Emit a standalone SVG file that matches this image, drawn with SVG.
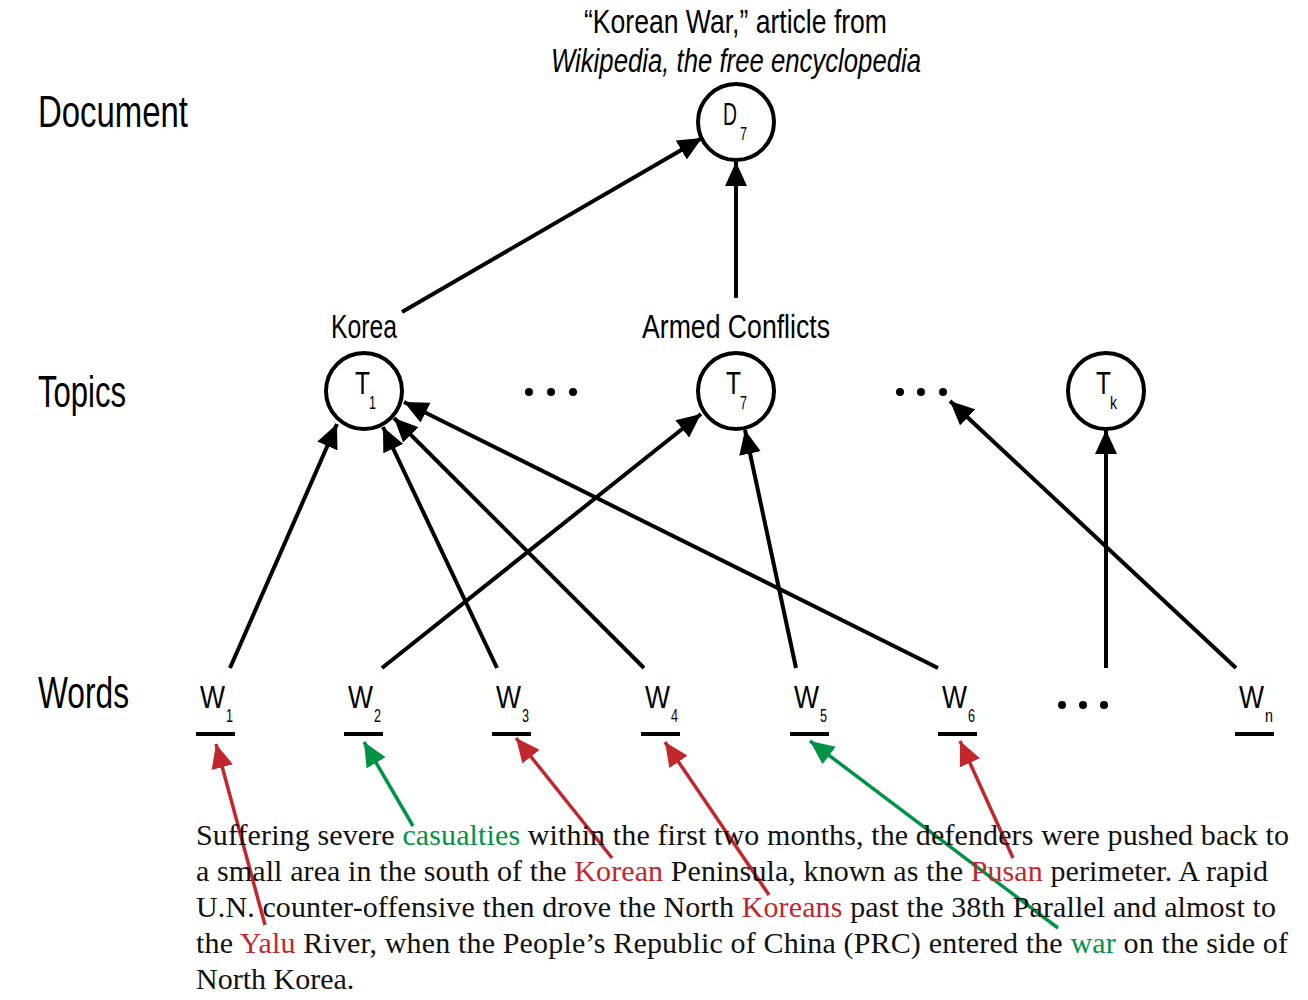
<svg xmlns="http://www.w3.org/2000/svg" width="1308" height="1000" viewBox="0 0 1308 1000">
<defs>
<marker id="ah" markerUnits="userSpaceOnUse" markerWidth="26" markerHeight="22" refX="24" refY="11" orient="auto"><path d="M0,0 L24,11 L0,22 Z" fill="#000"/></marker>
<marker id="ahr" markerUnits="userSpaceOnUse" markerWidth="26" markerHeight="22" refX="24" refY="11" orient="auto"><path d="M0,0 L24,11 L0,22 Z" fill="#c1272d"/></marker>
<marker id="ahg" markerUnits="userSpaceOnUse" markerWidth="26" markerHeight="22" refX="24" refY="11" orient="auto"><path d="M0,0 L24,11 L0,22 Z" fill="#009245"/></marker>
<style>
.lbl{font-family:"Liberation Sans",Arial,sans-serif;fill:#000}
.node{fill:#fff;stroke:#000;stroke-width:4}
.e{stroke:#000;stroke-width:4;fill:none;marker-end:url(#ah)}
.er{stroke:#c1272d;stroke-width:3.5;fill:none;marker-end:url(#ahr)}
.eg{stroke:#009245;stroke-width:3.5;fill:none;marker-end:url(#ahg)}
.bar{stroke:#000;stroke-width:4}
.para{font-family:"Liberation Serif","Times New Roman",serif;font-size:30px;fill:#111}
.r{fill:#c1272d}.g{fill:#009245}
.big{font-size:32px}
.sub{font-size:19px}
</style>
</defs>
<rect width="1308" height="1000" fill="#fff"/>
<g id="titles" class="lbl">
<text x="584" y="33" font-size="33" textLength="303" lengthAdjust="spacingAndGlyphs">“Korean War,” article from</text>
<text x="551" y="72" font-size="33" font-style="italic" textLength="370" lengthAdjust="spacingAndGlyphs">Wikipedia, the free encyclopedia</text>
<text x="38" y="127" font-size="44" textLength="150" lengthAdjust="spacingAndGlyphs">Document</text>
<text x="38" y="407" font-size="44" textLength="88" lengthAdjust="spacingAndGlyphs">Topics</text>
<text x="38" y="708" font-size="44" textLength="91" lengthAdjust="spacingAndGlyphs">Words</text>
<text x="331" y="338" font-size="33" textLength="66" lengthAdjust="spacingAndGlyphs">Korea</text>
<text x="642" y="338" font-size="33" textLength="188" lengthAdjust="spacingAndGlyphs">Armed Conflicts</text>
</g>
<g id="connectors">
<line class="e" x1="402" y1="312" x2="702" y2="138"/>
<line class="e" x1="736" y1="298" x2="736" y2="162"/>
<line class="e" x1="230" y1="668" x2="337" y2="424"/>
<line class="e" x1="382" y1="668" x2="701" y2="414"/>
<line class="e" x1="497" y1="668" x2="383" y2="427"/>
<line class="e" x1="644" y1="668" x2="394" y2="418"/>
<line class="e" x1="796" y1="668" x2="745" y2="430"/>
<line class="e" x1="938" y1="668" x2="404" y2="402"/>
<line class="e" x1="1106" y1="668" x2="1106" y2="430"/>
<line class="e" x1="1236" y1="668" x2="950" y2="401"/>
<line class="er" x1="265" y1="925" x2="216" y2="744"/>
<line class="eg" x1="413" y1="826" x2="364" y2="742"/>
<line class="er" x1="612" y1="858" x2="516" y2="738"/>
<line class="er" x1="769" y1="895" x2="665" y2="742"/>
<line class="eg" x1="1058" y1="928" x2="810" y2="741"/>
<line class="er" x1="1013" y1="858" x2="960" y2="741"/>
</g>
<g id="D7"><circle class="node" cx="736" cy="122" r="38"/><text class="lbl big" x="723" y="125" textLength="14" lengthAdjust="spacingAndGlyphs">D</text><text class="lbl sub" x="740" y="140" textLength="7" lengthAdjust="spacingAndGlyphs">7</text></g>
<g id="T1"><circle class="node" cx="364" cy="391" r="38"/><text class="lbl big" x="355" y="394" textLength="15" lengthAdjust="spacingAndGlyphs">T</text><text class="lbl sub" x="369" y="409" textLength="7" lengthAdjust="spacingAndGlyphs">1</text></g>
<g id="T7"><circle class="node" cx="736" cy="391" r="38"/><text class="lbl big" x="726" y="394" textLength="15" lengthAdjust="spacingAndGlyphs">T</text><text class="lbl sub" x="740" y="409" textLength="7" lengthAdjust="spacingAndGlyphs">7</text></g>
<g id="Tk"><circle class="node" cx="1106" cy="391" r="38"/><text class="lbl big" x="1096" y="394" textLength="15" lengthAdjust="spacingAndGlyphs">T</text><text class="lbl sub" x="1110" y="409" textLength="7" lengthAdjust="spacingAndGlyphs">k</text></g>
<g id="dots1"><circle cx="529" cy="392" r="4"/><circle cx="551" cy="392" r="4"/><circle cx="573" cy="392" r="4"/></g>
<g id="dots2"><circle cx="900" cy="392" r="4"/><circle cx="921" cy="392" r="4"/><circle cx="943" cy="392" r="4"/></g>
<g id="dots3"><circle cx="1062" cy="705" r="4"/><circle cx="1083" cy="705" r="4"/><circle cx="1104" cy="705" r="4"/></g>
<g id="W1"><text class="lbl big" x="200" y="708" textLength="25" lengthAdjust="spacingAndGlyphs">W</text><text class="lbl sub" x="226" y="722" textLength="7" lengthAdjust="spacingAndGlyphs">1</text><line class="bar" x1="196" y1="734" x2="235" y2="734"/></g>
<g id="W2"><text class="lbl big" x="348" y="708" textLength="25" lengthAdjust="spacingAndGlyphs">W</text><text class="lbl sub" x="374" y="722" textLength="7" lengthAdjust="spacingAndGlyphs">2</text><line class="bar" x1="344" y1="734" x2="383" y2="734"/></g>
<g id="W3"><text class="lbl big" x="496" y="708" textLength="25" lengthAdjust="spacingAndGlyphs">W</text><text class="lbl sub" x="522" y="722" textLength="7" lengthAdjust="spacingAndGlyphs">3</text><line class="bar" x1="492" y1="734" x2="531" y2="734"/></g>
<g id="W4"><text class="lbl big" x="645" y="708" textLength="25" lengthAdjust="spacingAndGlyphs">W</text><text class="lbl sub" x="671" y="722" textLength="7" lengthAdjust="spacingAndGlyphs">4</text><line class="bar" x1="641" y1="734" x2="680" y2="734"/></g>
<g id="W5"><text class="lbl big" x="794" y="708" textLength="25" lengthAdjust="spacingAndGlyphs">W</text><text class="lbl sub" x="820" y="722" textLength="7" lengthAdjust="spacingAndGlyphs">5</text><line class="bar" x1="790" y1="734" x2="829" y2="734"/></g>
<g id="W6"><text class="lbl big" x="942" y="708" textLength="25" lengthAdjust="spacingAndGlyphs">W</text><text class="lbl sub" x="968" y="722" textLength="7" lengthAdjust="spacingAndGlyphs">6</text><line class="bar" x1="938" y1="734" x2="977" y2="734"/></g>
<g id="Wn"><text class="lbl big" x="1239" y="708" textLength="25" lengthAdjust="spacingAndGlyphs">W</text><text class="lbl sub" x="1265" y="722" textLength="8" lengthAdjust="spacingAndGlyphs">n</text><line class="bar" x1="1235" y1="734" x2="1274" y2="734"/></g>
<g id="paragraph" class="para">
<text x="196" y="845" textLength="1093" lengthAdjust="spacing">Suffering severe <tspan class="g">casualties</tspan> within the first two months, the defenders were pushed back to</text>
<text x="196" y="881" textLength="1072" lengthAdjust="spacing">a small area in the south of the <tspan class="r">Korean</tspan> Peninsula, known as the <tspan class="r">Pusan</tspan> perimeter. A rapid</text>
<text x="196" y="917" textLength="1080" lengthAdjust="spacing">U.N. counter-offensive then drove the North <tspan class="r">Koreans</tspan> past the 38th Parallel and almost to</text>
<text x="196" y="953" textLength="1092" lengthAdjust="spacing">the <tspan class="r">Yalu</tspan> River, when the People’s Republic of China (PRC) entered the <tspan class="g">war</tspan> on the side of</text>
<text x="196" y="989">North Korea.</text>
</g>
</svg>
